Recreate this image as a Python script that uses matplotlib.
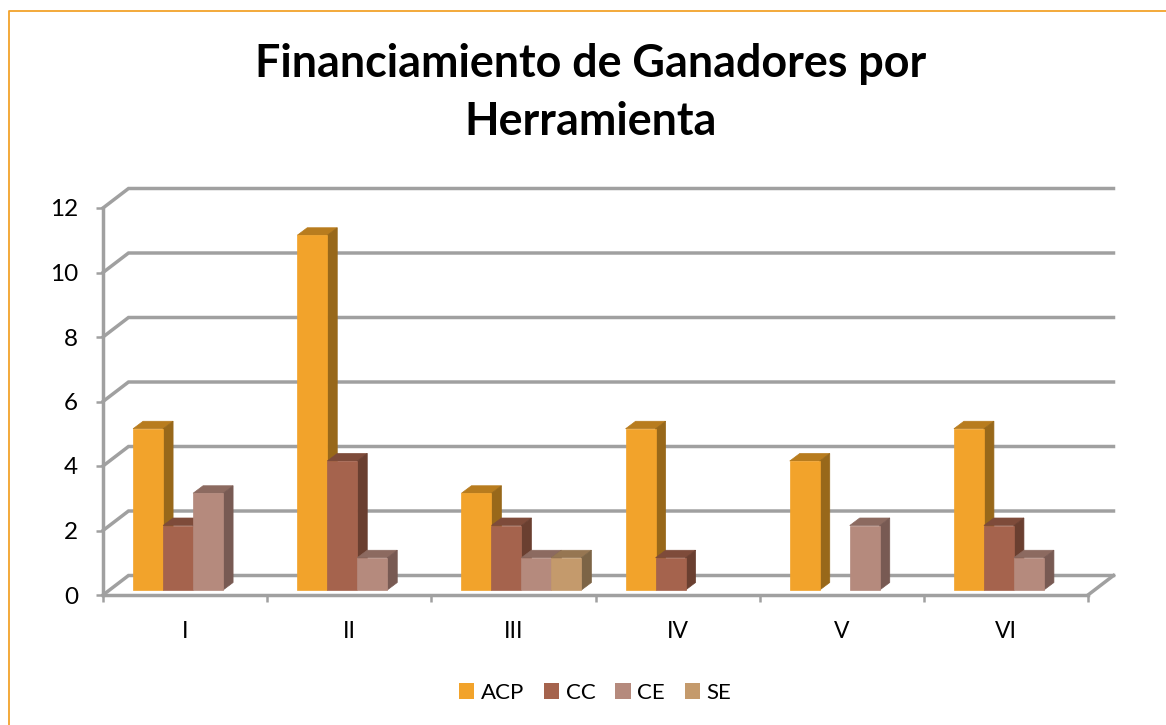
import numpy as np
import matplotlib
matplotlib.use('Agg')
import matplotlib.pyplot as plt
from matplotlib.patches import Polygon, Patch
from matplotlib.lines import Line2D

plt.rcParams['font.family'] = ['Lato', 'DejaVu Sans']

# Datos
categorias = ['I', 'II', 'III', 'IV', 'V', 'VI']
series = ['ACP', 'CC', 'CE', 'SE']
acp = [5, 11, 3, 5, 4, 5]
cc = [2, 4, 2, 1, 0, 2]
ce = [3, 1, 1, 0, 2, 1]
se = [0, 0, 1, 0, 0, 0]
valores = [acp, cc, ce, se]

# cara frontal, cara superior, cara lateral
colores = [('#F2A32B', '#B87C1E', '#98681A'),
           ('#A5634D', '#7E4B3A', '#6A3F30'),
           ('#B58A7D', '#8C6A60', '#785A53'),
           ('#C49A6C', '#967652', '#7C6446')]

W, H = 1166, 725
fig = plt.figure(figsize=(W / 100, H / 100), dpi=100, facecolor='white')
ax = fig.add_axes([103 / W, 1 - 595 / H, (1088 - 103) / W, (595 - 208) / H])
ax.set_xlim(0, 6)
ax.set_ylim(0, 12)
ax.patch.set_alpha(0)

# profundidad en unidades de datos
px_x = 6 / (1088 - 103)
px_y = 12 / (595 - 208)
fondo_x, fondo_y = 25.5 * px_x, 19.5 * px_y
gris = '#A0A0A0'
lw = 2.5

# pared y suelo
for v in range(0, 14, 2):
    ax.plot([0, fondo_x, 6 + fondo_x], [v, v + fondo_y, v + fondo_y], color=gris, lw=lw,
            clip_on=False, solid_joinstyle='miter', zorder=1)
ax.plot([6, 6 + fondo_x], [0, fondo_y], color=gris, lw=lw, clip_on=False, zorder=1)

for s in ['top', 'right']:
    ax.spines[s].set_visible(False)
for s in ['left', 'bottom']:
    ax.spines[s].set_color(gris)
    ax.spines[s].set_linewidth(lw)

ax.set_yticks(range(0, 14, 2))
ax.set_xticks(range(7))
ax.set_xticklabels([])
ax.set_xticks(np.arange(6) + 0.5, categorias, minor=True)
ax.tick_params(axis='both', which='major', color=gris, width=1.8, length=5, labelsize=17.5, labelcolor='black')
ax.tick_params(axis='y', which='major', pad=13)
ax.tick_params(axis='x', which='minor', length=0, labelsize=16.5, pad=19)

# barras
ancho = 30 * px_x
prof_x, prof_y = 10 * px_x, 7.5 * px_y
base_x, base_y = 8 * px_x, 5 * px_y
inicio = (1 - 4 * ancho) / 2 + base_x

for c in range(len(categorias)):
    for i in range(len(series)):
        v = valores[i][c]
        if v == 0:
            continue
        x0 = c + inicio + i * ancho
        x1 = x0 + ancho
        y0 = base_y
        y1 = base_y + v
        frente, arriba, lado = colores[i]
        z = 3 + c + i * 0.1
        ax.add_patch(Polygon([(x0, y1), (x1, y1), (x1 + prof_x, y1 + prof_y), (x0 + prof_x, y1 + prof_y)],
                             facecolor=arriba, edgecolor=arriba, lw=0.5, clip_on=False, zorder=z))
        ax.add_patch(Polygon([(x1, y0), (x1 + prof_x, y0 + prof_y), (x1 + prof_x, y1 + prof_y), (x1, y1)],
                             facecolor=lado, edgecolor=lado, lw=0.5, clip_on=False, zorder=z))
        ax.bar(x0, v, width=ancho, bottom=y0, align='edge', color=frente, edgecolor=frente,
               lw=0.5, clip_on=False, zorder=z + 0.05)

# leyenda
handles = [Patch(facecolor=colores[i][0], edgecolor='none', label=series[i]) for i in range(4)]
fig.legend(handles=handles, loc='center', bbox_to_anchor=(595 / W, 1 - 693 / H), ncol=4, frameon=False,
           fontsize=16, handlelength=0.7, handleheight=0.7, handletextpad=0.28, columnspacing=0.9)

# titulo
fig.text(591 / W, 1 - 93 / H, 'Financiamiento de Ganadores por\nHerramienta', ha='center', va='center',
         fontsize=32.3, fontweight='bold', color='black', linespacing=1.45)

# marco
naranja = '#F2A32B'
fig.add_artist(Line2D([8.5 / W, 8.5 / W, 1], [0, 1 - 11 / H, 1 - 11 / H], color=naranja, lw=1.3,
                      transform=fig.transFigure))

fig.savefig('out.png', dpi=100)
